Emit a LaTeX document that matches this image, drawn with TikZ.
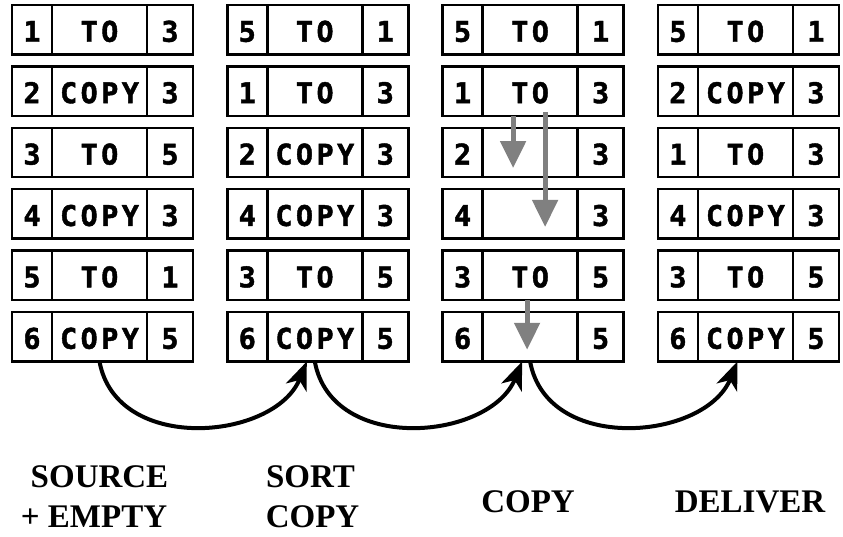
\documentclass[tikz,border=0pt]{standalone}
\usepackage{fontspec}
\usetikzlibrary{arrows.meta,calc}
\newfontfamily\cellfont[LetterSpace=12,FakeBold=1.5]{DejaVu Sans Mono}
\newfontfamily\labelfont{Liberation Serif}

% one record: number | operation | number
\newcommand\cellrow[5]{%
  \node[cellbox,minimum width=40pt] (c#1r#2a) at ({12+215.3*(#1-1)},{5+61.4*(#2-1)}) {#3};
  \node[cellbox,minimum width=95pt] (c#1r#2b) at (c#1r#2a.north east) {#4};
  \node[cellbox,minimum width=46pt] (c#1r#2c) at (c#1r#2b.north east) {#5};}

\tikzset{
  cellbox/.style={draw, line width=2.4pt, minimum height=49.5pt, inner sep=0pt,
    outer sep=0pt, anchor=north west, text height=24pt, text depth=0pt,
    font=\cellfont\bfseries\fontsize{28.5}{30}\selectfont},
  grayarrow/.style={draw=black!50, line width=5pt,
    -{Triangle[length=27pt,width=25pt]}},
  curvearrow/.style={line width=4pt, -{Stealth[length=28pt,width=22pt,inset=8pt]}},
  caption/.style={anchor=base, inner sep=0pt,
    font=\labelfont\bfseries\fontsize{33}{36}\selectfont}
}

\begin{document}
\begin{tikzpicture}[x=1pt,y=-1pt]
\fill[white] (0,0) rectangle (843,537);
\useasboundingbox (0,0) rectangle (843,537);

% source + empty
\cellrow{1}{1}{1}{TO}{3}
\cellrow{1}{2}{2}{COPY}{3}
\cellrow{1}{3}{3}{TO}{5}
\cellrow{1}{4}{4}{COPY}{3}
\cellrow{1}{5}{5}{TO}{1}
\cellrow{1}{6}{6}{COPY}{5}
% sort copy
\cellrow{2}{1}{5}{TO}{1}
\cellrow{2}{2}{1}{TO}{3}
\cellrow{2}{3}{2}{COPY}{3}
\cellrow{2}{4}{4}{COPY}{3}
\cellrow{2}{5}{3}{TO}{5}
\cellrow{2}{6}{6}{COPY}{5}
% copy
\cellrow{3}{1}{5}{TO}{1}
\cellrow{3}{2}{1}{TO}{3}
\cellrow{3}{3}{2}{}{3}
\cellrow{3}{4}{4}{}{3}
\cellrow{3}{5}{3}{TO}{5}
\cellrow{3}{6}{6}{}{5}
% deliver
\cellrow{4}{1}{5}{TO}{1}
\cellrow{4}{2}{2}{COPY}{3}
\cellrow{4}{3}{1}{TO}{3}
\cellrow{4}{4}{4}{COPY}{3}
\cellrow{4}{5}{3}{TO}{5}
\cellrow{4}{6}{6}{COPY}{5}

% copy operations
\draw[grayarrow] ($(c3r2b.south)+(-17,0.5)$) -- ($(c3r3b.center)+(-17,15.5)$);
\draw[grayarrow] ($(c3r2b.south)+(15,-3.5)$) -- ($(c3r4b.center)+(15,13)$);
\draw[grayarrow] ($(c3r5b.south)+(-3,0)$) -- ($(c3r6b.center)+(-3,13)$);

% stage transitions
\draw[curvearrow] (c1r6b.south) .. controls +(17,93) and +(-32,79) .. ([xshift=-8pt]c2r6b.south);
\draw[curvearrow] (c2r6b.south) .. controls +(17,93) and +(-32,79) .. ([xshift=-8pt]c3r6b.south);
\draw[curvearrow] (c3r6b.south) .. controls +(17,93) and +(-32,79) .. ([xshift=-8pt]c4r6b.south);

% stage names
\node[caption] (l1a) at (99.5,487) {SOURCE};
\node[caption] (l1b) at (94,527) {+ EMPTY};
\node[caption] (l2a) at (310.5,487) {SORT};
\node[caption] (l2b) at (312.5,527) {COPY};
\node[caption] (l3) at (528,512) {COPY};
\node[caption] (l4) at (750,512) {DELIVER};
\end{tikzpicture}
\end{document}
